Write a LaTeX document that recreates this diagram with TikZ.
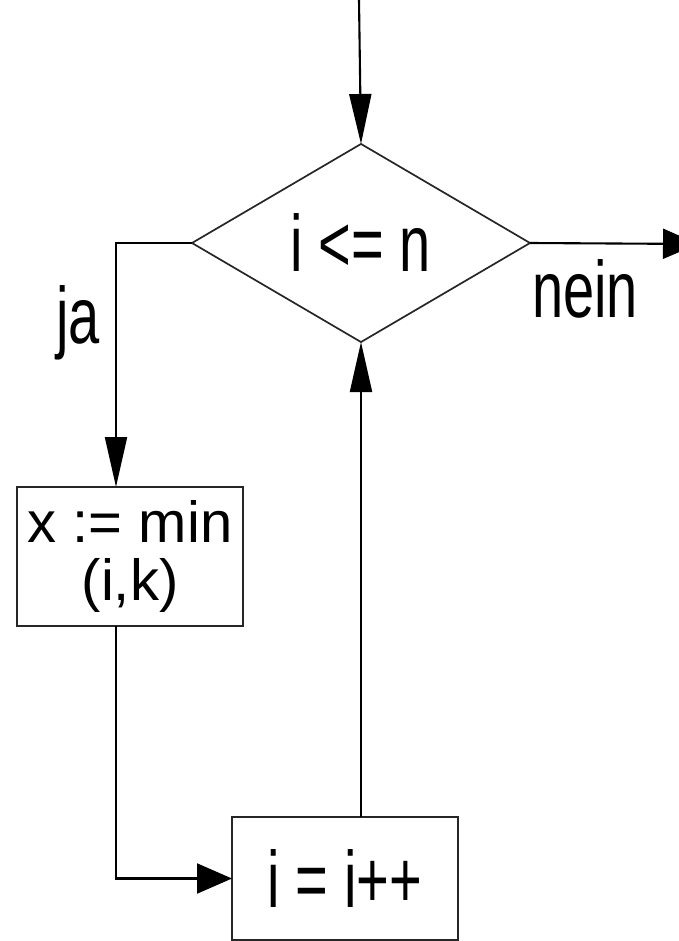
\documentclass[tikz,border=0pt]{standalone}
\usepackage{fontspec}
\setmainfont{Liberation Sans}
\newfontfamily\narrowf{Liberation Sans}[FakeStretch=0.7]
\usetikzlibrary{shapes.geometric,arrows.meta}
\begin{document}
\begin{tikzpicture}[x=1pt,y=-1pt,
  lbl/.style={font=\narrowf\fontsize{80}{80}\selectfont, inner sep=0pt},
  dec/.style={shape=diamond, draw=black!85, line width=1.7pt, inner sep=0pt, outer sep=0pt,
    minimum width=338pt, minimum height=193pt, font=\narrowf\fontsize{80}{80}\selectfont},
  pbox/.style={draw=black!85, line width=2.2pt, inner sep=0pt, outer sep=0pt, align=center},
  conn/.style={line width=2.1pt, black},
  varr/.style={conn, -{Triangle[length=50pt 0 0, width=22pt 0 0]}},
  harr/.style={conn, -{Triangle[length=35pt 0 0, width=30pt 0 0]}}]
\useasboundingbox (0,0) rectangle (679,941);
\coordinate (top) at (359,0);
\node[dec] (d) at (361,243) {i <= n};
\coordinate (out) at (698,244);
\node[pbox, minimum width=226pt, minimum height=139pt,
  font=\fontsize{58}{58}\selectfont] (b1) at (130,556.5) {x := min\\(i,k)};
\node[pbox, minimum width=226pt, minimum height=123pt,
  font=\narrowf\fontsize{80}{80}\selectfont] (b2) at (345,878.5) {i = i++};
\node[lbl, anchor=base] (ja) at (78,343) {ja};
\node[lbl, anchor=base] (nein) at (585,317) {nein};
\draw[varr] (top) -- (d.north);
\draw[harr] (d.east) -- (out);
\draw[varr] (d.west) -| ([xshift=-14pt]b1.north);
\draw[harr] ([xshift=-14pt]b1.south) |- (b2.west);
\draw[varr] (b2.north -| d.south) -- (d.south);
\end{tikzpicture}
\end{document}
